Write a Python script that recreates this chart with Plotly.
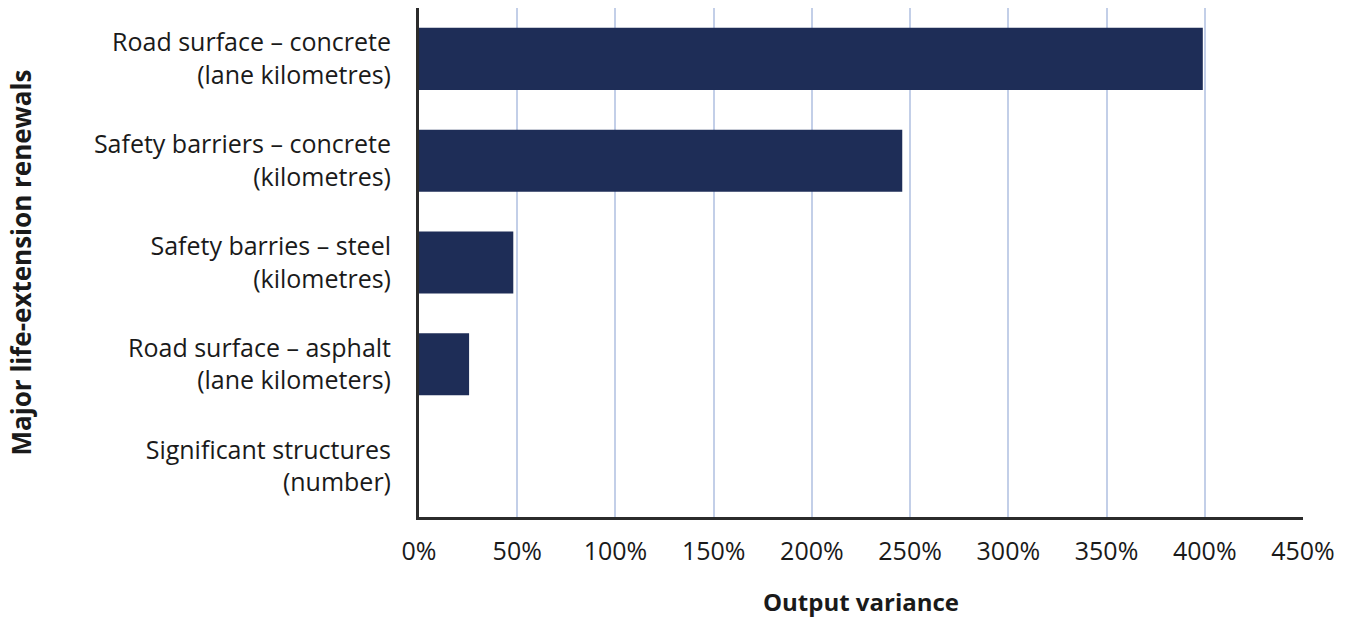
import plotly.graph_objects as go

categories = [
    "Road surface – concrete<br>(lane kilometres)",
    "Safety barriers – concrete<br>(kilometres)",
    "Safety barries – steel<br>(kilometres)",
    "Road surface – asphalt<br>(lane kilometers)",
    "Significant structures<br>(number)",
]
variance_pct = [399, 246, 48, 25.5, 0]
x_ticks = [0, 50, 100, 150, 200, 250, 300, 350, 400, 450]
x_tick_labels = [f"{v}%" for v in x_ticks]

FONT = "Open Sans, Noto Sans, sans-serif"
TEXT = "#1a1a1a"

fig = go.Figure(
    go.Bar(
        x=variance_pct,
        y=categories,
        orientation="h",
        marker=dict(color="#1e2d57", line=dict(width=0)),
        hoverinfo="x+y",
    )
)

fig.update_layout(
    width=1352,
    height=618,
    margin=dict(l=419, r=49, t=8, b=101),
    paper_bgcolor="white",
    plot_bgcolor="white",
    bargap=0.39,
    showlegend=False,
    font=dict(family=FONT, size=25, color=TEXT),
)

fig.update_xaxes(
    range=[0, 450],
    tickvals=x_ticks,
    ticktext=x_tick_labels,
    automargin=False,
    showgrid=True,
    gridcolor="#c3cfe8",
    gridwidth=2,
    zeroline=False,
    showline=True,
    linecolor="#2b2b2b",
    linewidth=3,
    ticks="",
    ticklabelstandoff=10,
    tickfont=dict(size=25, color=TEXT),
    title=dict(text="<b>Output variance</b>", font=dict(size=24, color=TEXT), standoff=32),
)

fig.update_yaxes(
    categoryorder="array",
    categoryarray=categories[::-1],
    automargin=False,
    showgrid=False,
    zeroline=False,
    showline=True,
    linecolor="#2b2b2b",
    linewidth=3,
    ticks="",
    ticklabelstandoff=20,
    tickfont=dict(size=25, color=TEXT),
    title=dict(text="<b>Major life-extension renewals</b>", font=dict(size=26, color=TEXT), standoff=55),
)

fig.write_html("out.html")
